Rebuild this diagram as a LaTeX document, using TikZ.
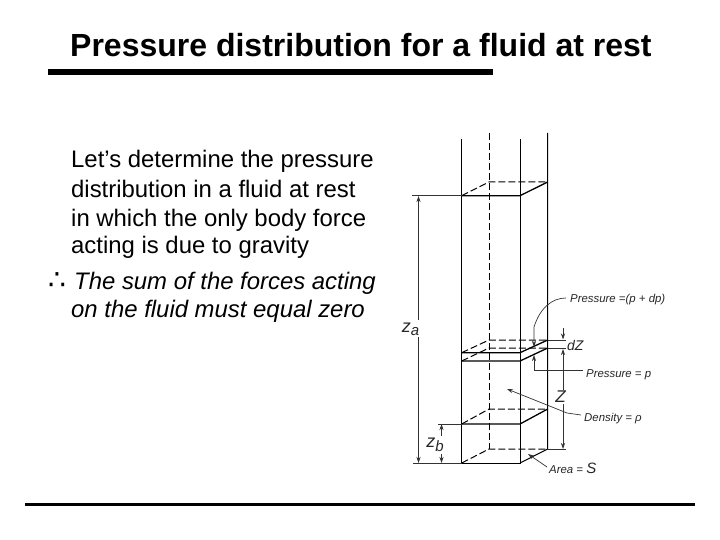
\documentclass[tikz,border=0pt]{standalone}
\usepackage{fontspec}
\setmainfont{Liberation Sans}
\newfontfamily\djv{DejaVu Sans}
\usetikzlibrary{arrows.meta}
\tikzset{
 titletext/.style={anchor=base west,inner sep=0pt,font=\fontsize{32}{34}\selectfont\bfseries},
 bodytext/.style={anchor=base west,inner sep=0pt,font=\fontsize{23.9}{26}\selectfont},
 bodyital/.style={anchor=base west,inner sep=0pt,font=\fontsize{23.9}{26}\selectfont\itshape},
 fig/.style={anchor=base west,inner sep=0pt,font=\fontsize{11.4}{13}\selectfont\itshape,text=black!85},
 figbig/.style={anchor=base west,inner sep=0pt,font=\fontsize{14}{15}\selectfont\itshape,text=black!85},
 sym/.style={anchor=center,inner sep=0pt,font=\fontsize{18}{20}\selectfont\itshape,text=black!85},
 rulebar/.style={line width=5.5pt,draw=black},
 wall/.style={line width=1pt,draw=black},
 thick edge/.style={line width=1.3pt,draw=black},
 hid/.style={line width=1pt,draw=black,dash pattern=on 7pt off 3pt},
 dim/.style={line width=.7pt,draw=black!80},
 dimarrow/.style={dim,-{Stealth[length=6pt,width=4pt]}},
}
\begin{document}
\begin{tikzpicture}[x=1pt,y=-1pt]
\useasboundingbox (0,0) rectangle (720,540);
\node[titletext] (title) at (70,56.5) {Pressure distribution for a fluid at rest};
\coordinate (ra) at (48,72); \coordinate (rb) at (493,72);
\draw[rulebar] (ra) -- (rb);
\coordinate (rc) at (25,504); \coordinate (rd) at (695,504);
\draw[line width=3pt] (rc) -- (rd);
\node[bodytext] (l1) at (71,168) {Let’s determine the pressure};
\node[bodytext] (l2) at (71,197) {distribution in a fluid at rest};
\node[bodytext] (l3) at (71,226) {in which the only body force};
\node[bodytext] (l4) at (71,254) {acting is due to gravity};
\node[anchor=base west,inner sep=0pt,font=\djv\fontsize{28}{28}\selectfont] (th) at (48,289) {∴};
\node[bodyital] (l5) at (74,289) {The sum of the forces acting};
\node[bodyital] (l6) at (71,317) {on the fluid must equal zero};
% column corners
\coordinate (fltop) at (461.7,139); \coordinate (frtop) at (520,139);
\coordinate (brtop) at (547.7,133); \coordinate (bltop) at (489,133);
\coordinate (fl0) at (461.7,463); \coordinate (fr0) at (520,463);
\coordinate (br0) at (547.7,449); \coordinate (bl0) at (489,449);
\draw[wall] (fltop) -- (fl0) -- (fr0) -- (frtop);
\draw[wall] (brtop) -- (br0) -- (fr0);
\draw[hid] (bltop) -- (bl0);
\draw[hid] (fl0) -- (bl0) -- (br0);
% planes
\foreach \n/\f/\b in {a/195.7/182, b/352.7/340, c/361/348, d/424/409}{
 \coordinate (fl\n) at (461.7,\f); \coordinate (fr\n) at (520,\f);
 \coordinate (br\n) at (547.7,\b); \coordinate (bl\n) at (489,\b);
 \draw[thick edge] (fl\n) -- (fr\n) -- (br\n);
 \draw[hid] (fl\n) -- (bl\n) -- (br\n);
}
% za dimension
\coordinate (zatop) at (412,195.7); \coordinate (zaext) at (413,463);
\draw[dim] (zatop) -- (fla);
\draw[dim] (zaext) -- (fl0);
\node[sym] (za) at (410.5,329) {z\raisebox{-3pt}{\fontsize{15}{16}\selectfont a}};
\coordinate (zaup) at (418.5,320); \coordinate (zadn) at (418.5,337);
\coordinate (zauptip) at (418.5,196); \coordinate (zadntip) at (418.5,463);
\draw[dimarrow] (zaup) -- (zauptip);
\draw[dimarrow] (zadn) -- (zadntip);
% zb dimension
\coordinate (zbtop) at (438,424);
\draw[dim] (zbtop) -- (fld);
\node[sym] (zb) at (435,445) {z\raisebox{-4pt}{\fontsize{15}{16}\selectfont b}};
\coordinate (zbup) at (441.5,436); \coordinate (zbuptip) at (441.5,424);
\coordinate (zbdn) at (441.5,454); \coordinate (zbdntip) at (441.5,463);
\draw[dimarrow] (zbup) -- (zbuptip);
\draw[dimarrow] (zbdn) -- (zbdntip);
% right labels
\node[fig] (pdp) at (570,302) {Pressure =(p + dp)};
\coordinate (pv) at (534,327);
\coordinate (pv2) at (534,347);
\coordinate (pq) at (566,298);
\draw[dimarrow] (pq) .. controls (552,298) and (540,308) .. (pv) -- (pv2);
\node[fig] (pp) at (586,377) {Pressure = p};
\coordinate (pa) at (534,370.5); \coordinate (patip) at (534,355); \coordinate (pb) at (583,370.5);
\draw[dimarrow] (pb) -- (pa) -- (patip);
\node[figbig] (dz) at (567,350) {dZ};
\coordinate (e1) at (566,340); \coordinate (e2) at (566,348); \coordinate (e3) at (566,449);
\draw[dim] (brb) -- (e1);
\draw[dim] (brc) -- (e2);
\draw[dim] (br0) -- (e3);
\coordinate (dza) at (563,328); \coordinate (dzb) at (563,339.5);
\draw[dimarrow] (dza) -- (dzb);
\node[figbig,anchor=center,font=\fontsize{17}{18}\selectfont\itshape] (zz) at (560.5,397) {Z};
\coordinate (zu) at (563,390); \coordinate (zut) at (563,349);
\coordinate (zd) at (563,404); \coordinate (zdt) at (563,449);
\draw[dimarrow] (zu) -- (zut);
\draw[dimarrow] (zd) -- (zdt);
\node[fig] (den) at (584,421) {Density = ρ};
\coordinate (den1) at (581,415); \coordinate (den2) at (567,413);
\coordinate (dentip) at (507,389);
\draw[dimarrow] (den1) -- (den2) -- (dentip);
\node[fig] (area) at (549,473) {Area = {\fontsize{15}{15}\selectfont S}};
\coordinate (ar1) at (547,467); \coordinate (areatip) at (528,454);
\draw[dimarrow] (ar1) -- (areatip);
\end{tikzpicture}
\end{document}
